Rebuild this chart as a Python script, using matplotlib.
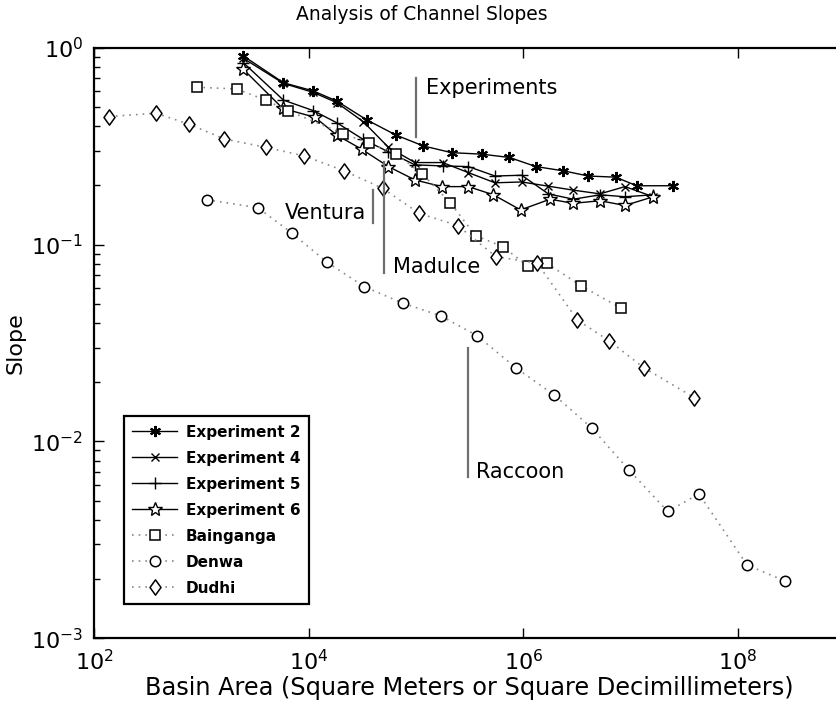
import numpy as np
import matplotlib
matplotlib.use("Agg")
import matplotlib.pyplot as plt
from matplotlib.path import Path
from matplotlib.ticker import LogLocator, NullFormatter, FixedLocator

plt.rcParams['font.family'] = ['DejaVu Sans']
plt.rcParams['mathtext.fontset'] = 'dejavusans'

# ---- data ----
exp2_area = [2455, 5794, 11015, 18197, 34674, 65013, 116950, 214780, 409260, 741310,
             1.312e6, 2.360e6, 4.036e6, 7.261e6, 1.140e7, 2.506e7]
exp2_slope = [0.908, 0.664, 0.603, 0.536, 0.430, 0.360, 0.317, 0.293, 0.288, 0.277,
              0.249, 0.237, 0.223, 0.220, 0.199, 0.199]

exp4_area = [2455, 5794, 11015, 18197, 32210, 55210, 97720, 177000, 307600, 544500,
             966100, 1.710e6, 2.931e6, 5.188e6, 8.872e6, 1.629e7]
exp4_slope = [0.883, 0.659, 0.593, 0.526, 0.421, 0.312, 0.261, 0.261, 0.232, 0.206,
              0.208, 0.198, 0.189, 0.181, 0.197, 0.175]

exp5_area = [2455, 5794, 11015, 18197, 32210, 55210, 97720, 177000, 307600, 544500,
             966100, 1.710e6, 2.931e6, 5.188e6, 8.872e6, 1.629e7]
exp5_slope = [0.839, 0.542, 0.479, 0.416, 0.342, 0.296, 0.254, 0.251, 0.249, 0.223,
              0.225, 0.181, 0.170, 0.179, 0.175, 0.179]

exp6_area = [2455, 5702, 11430, 18197, 31120, 55210, 97720, 173400, 307600, 526000,
             944100, 1.774e6, 2.931e6, 5.188e6, 8.872e6, 1.629e7]
exp6_slope = [0.776, 0.492, 0.443, 0.360, 0.305, 0.249, 0.213, 0.197, 0.197, 0.179,
              0.150, 0.170, 0.162, 0.167, 0.158, 0.175]

bainganga_area = [902, 2118, 3963, 6397, 20990, 36390, 65460, 114800, 208400, 358900,
                  642700, 1.099e6, 1.652e6, 3.451e6, 8.204e6]
bainganga_slope = [0.630, 0.617, 0.542, 0.478, 0.366, 0.327, 0.289, 0.228, 0.163, 0.111,
                   0.0977, 0.0778, 0.0804, 0.0618, 0.0474]

denwa_area = [1117, 3342, 7015, 14790, 32960, 75160, 171000, 372400, 849200, 1.945e6,
              4.345e6, 9.683e6, 2.218e7, 4.345e7, 1.219e8, 2.773e8]
denwa_slope = [0.169, 0.154, 0.114, 0.0813, 0.0611, 0.0504, 0.0434, 0.0344, 0.0237, 0.0172,
               0.0117, 0.00716, 0.00441, 0.00541, 0.00236, 0.00195]

dudhi_area = [138, 376, 769, 1629, 3963, 9078, 21280, 48870, 107200, 244300,
              553400, 1.352e6, 3.192e6, 6.339e6, 1.327e7, 3.926e7]
dudhi_slope = [0.447, 0.465, 0.408, 0.344, 0.312, 0.282, 0.237, 0.193, 0.144, 0.125,
               0.0869, 0.0804, 0.0414, 0.0324, 0.0237, 0.0167]

x_ticks = [1e2, 1e4, 1e6, 1e8]
x_tick_labels = [r'$10^{2}$', r'$10^{4}$', r'$10^{6}$', r'$10^{8}$']
y_ticks = [1e-3, 1e-2, 1e-1, 1e0]
y_tick_labels = [r'$10^{-3}$', r'$10^{-2}$', r'$10^{-1}$', r'$10^{0}$']

# diamond marker, a bit taller than wide (like MATLAB's 'd')
diamond = Path([(0, 1), (0.72, 0), (0, -1), (-0.72, 0), (0, 1)],
               [Path.MOVETO, Path.LINETO, Path.LINETO, Path.LINETO, Path.CLOSEPOLY])

# ---- figure ----
fig = plt.figure(figsize=(8.37, 7.09), dpi=100)
ax = fig.add_axes([0.1127, 0.0997, 0.8969, 0.8330])
ax.set_xscale('log')
ax.set_yscale('log')

exp_kw = dict(color='black', linestyle='-', linewidth=1.0)
ax.plot(exp2_area, exp2_slope, marker=(6, 2, 0), markersize=8, markeredgewidth=1.5,
        label='Experiment 2', **exp_kw)
ax.plot(exp4_area, exp4_slope, marker='x', markersize=6, markeredgewidth=1.0,
        label='Experiment 4', **exp_kw)
ax.plot(exp5_area, exp5_slope, marker='+', markersize=9, markeredgewidth=1.0,
        label='Experiment 5', **exp_kw)
ax.plot(exp6_area, exp6_slope, marker='*', markersize=10, markerfacecolor='white',
        markeredgecolor='black', markeredgewidth=1.0, label='Experiment 6', **exp_kw)

obs_kw = dict(color='#8a8a8a', linestyle=(0, (1, 3)), linewidth=1.2,
              markerfacecolor='white', markeredgecolor='black', markeredgewidth=1.1)
ax.plot(bainganga_area, bainganga_slope, marker='s', markersize=6.5, label='Bainganga', **obs_kw)
ax.plot(denwa_area, denwa_slope, marker='o', markersize=7.5, label='Denwa', **obs_kw)
ax.plot(dudhi_area, dudhi_slope, marker=diamond, markersize=11, label='Dudhi', **obs_kw)

ax.set_xlim(1e2, 1e9)
ax.set_ylim(1e-3, 1e0)

ax.xaxis.set_major_locator(FixedLocator(x_ticks))
ax.set_xticklabels(x_tick_labels)
ax.xaxis.set_minor_locator(FixedLocator([]))
ax.yaxis.set_major_locator(FixedLocator(y_ticks))
ax.set_yticklabels(y_tick_labels)
ax.yaxis.set_minor_locator(LogLocator(base=10, subs=np.arange(2, 10)))
ax.yaxis.set_minor_formatter(NullFormatter())

ax.tick_params(which='both', direction='in', top=True, right=False, width=1.0)
ax.tick_params(which='major', length=7, labelsize=16, pad=8)
ax.tick_params(which='minor', length=4)
for s in ax.spines.values():
    s.set_linewidth(1.6)

ax.set_xlabel('Basin Area (Square Meters or Square Decimillimeters)', fontsize=17.3, labelpad=1)
ax.set_ylabel('Slope', fontsize=16, labelpad=4)
fig.text(0.504, 0.979, 'Analysis of Channel Slopes', ha='center', va='center', fontsize=13.5)

# annotation leader lines and labels
gray = '#6f6f6f'
ax.plot([1.0e5, 1.0e5], [0.70, 0.352], color=gray, linewidth=1.6)
ax.text(1.24e5, 0.624, 'Experiments', ha='left', va='center', fontsize=15)
ax.plot([3.97e4, 3.97e4], [0.189, 0.129], color=gray, linewidth=1.6)
ax.text(3.45e4, 0.1446, 'Ventura', ha='right', va='center', fontsize=15)
ax.plot([5.02e4, 5.02e4], [0.263, 0.0717], color=gray, linewidth=1.6)
ax.text(6.1e4, 0.0769, 'Madulce', ha='left', va='center', fontsize=15)
ax.plot([3.03e5, 3.03e5], [0.0298, 0.0066], color=gray, linewidth=1.6)
ax.text(3.63e5, 0.0070, 'Raccoon', ha='left', va='center', fontsize=15)

leg = ax.legend(loc='lower left', bbox_to_anchor=(0.0396, 0.058), fancybox=False,
                edgecolor='black', framealpha=1.0, borderaxespad=0.0,
                prop={'weight': 'bold', 'size': 11}, handlelength=2.9,
                handletextpad=0.6, labelspacing=0.72, borderpad=0.55)
leg.get_frame().set_linewidth(1.6)

fig.savefig('out.png', dpi=100)
